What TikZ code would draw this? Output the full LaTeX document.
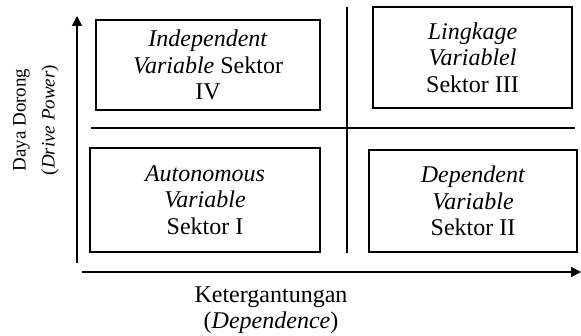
\documentclass[tikz,border=0pt]{standalone}
\usepackage{fontspec}
\setmainfont{Liberation Serif}
\usetikzlibrary{arrows.meta}
\begin{document}
\begin{tikzpicture}[x=1pt,y=-1pt,
  sbox/.style={draw, line width=1.1pt, inner sep=0pt, align=center,
    font=\fontsize{24}{26.5}\selectfont},
  divline/.style={line width=1.1pt},
  axis/.style={line width=1.6pt, -{Triangle[length=10pt,width=10pt]}},
  lbl/.style={align=center, font=\fontsize{24}{25.5}\selectfont}]
\useasboundingbox (0,0) rectangle (581,336);
\node[sbox, minimum width=224pt, minimum height=90pt] (b4) at (208,65)
  {\textit{Independent}\\\textit{Variable} Sektor\\IV};
\node[sbox, minimum width=199pt, minimum height=101pt] (b3) at (472.5,57.5)
  {\textit{Lingkage}\\\textit{Variablel}\\Sektor III};
\node[sbox, minimum width=230pt, minimum height=104pt] (b1) at (205,200)
  {\textit{Autonomous}\\\textit{Variable}\\Sektor I};
\node[sbox, minimum width=208pt, minimum height=102pt] (b2) at (473,201)
  {\textit{Dependent}\\\textit{Variable}\\Sektor II};
\coordinate (hL) at (91,128);
\coordinate (hR) at (575,128);
\coordinate (vT) at (347,7);
\coordinate (vB) at (347,253);
\draw[divline] (hL) -- (hR);
\draw[divline] (vT) -- (vB);
\coordinate (yB) at (77,263);
\coordinate (yT) at (77,16);
\coordinate (xL) at (82,272);
\coordinate (xR) at (581,272);
\draw[axis] (yB) -- (yT);
\draw[axis] (xL) -- (xR);
\node[lbl, rotate=90, font=\fontsize{19}{29}\selectfont] (ylab) at (36,120)
  {Daya Dorong\\(\textit{Drive Power})};
\node[lbl] (xlab) at (271,310) {Ketergantungan\\(\textit{Dependence})};
\end{tikzpicture}
\end{document}
